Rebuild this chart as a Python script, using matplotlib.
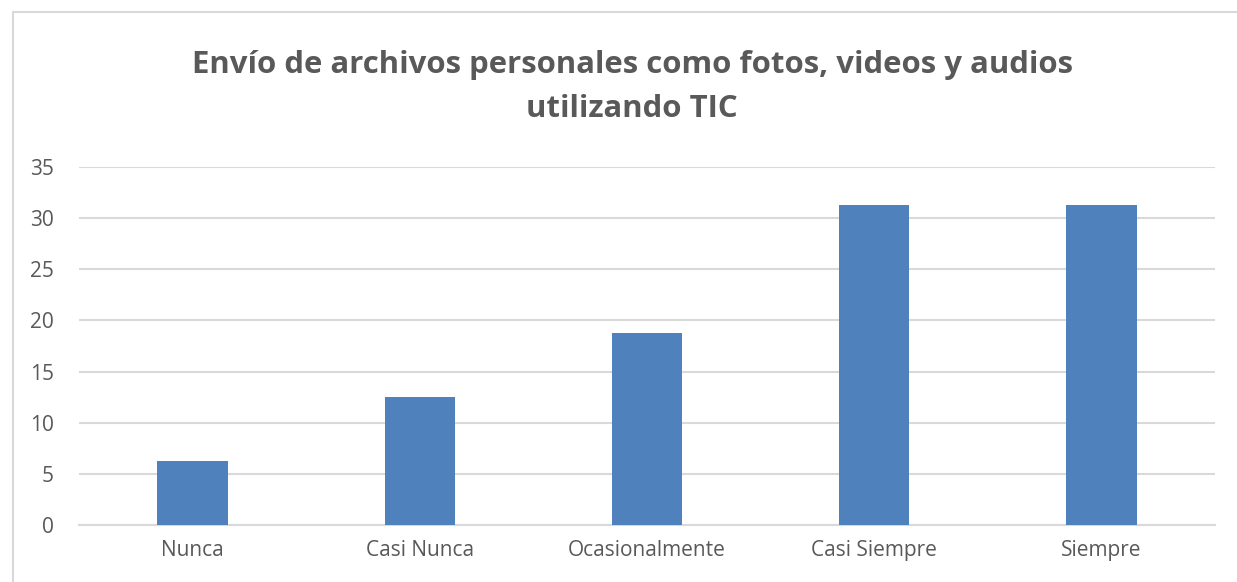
import matplotlib.pyplot as plt
from matplotlib.patches import Rectangle

categorias = ['Nunca', 'Casi Nunca', 'Ocasionalmente', 'Casi Siempre', 'Siempre']
valores = [6.25, 12.5, 18.75, 31.25, 31.25]
yticks = [0, 5, 10, 15, 20, 25, 30, 35]

plt.rcParams['font.family'] = ['Open Sans', 'DejaVu Sans']
gris = '#595959'

fig = plt.figure(figsize=(12.37, 5.82), dpi=100)
ax = fig.add_axes([79 / 1237, 1 - 525 / 582, (1215 - 79) / 1237, (525 - 167) / 582])

# borde del gráfico
fig.patches.append(Rectangle((13 / 1237, -0.05), 1.2, 1 - 12 / 582 + 0.05,
                             transform=fig.transFigure, fill=False,
                             edgecolor='#d9d9d9', linewidth=1.5))

x = range(len(categorias))
ax.bar(x, valores, width=0.31, color='#4f81bd', zorder=3)

ax.set_xlim(-0.5, len(categorias) - 0.5)
ax.set_ylim(0, 35)
ax.set_yticks(yticks)
ax.set_xticks(list(x))
ax.set_xticklabels(categorias)
ax.tick_params(axis='both', length=0, labelsize=15, colors=gris)
ax.tick_params(axis='y', pad=18)
ax.tick_params(axis='x', pad=11)
ax.grid(axis='y', color='#d9d9d9', linewidth=1.5, zorder=0)
for s in ['top', 'right', 'left']:
    ax.spines[s].set_visible(False)
ax.spines['bottom'].set_color('#d9d9d9')
ax.spines['bottom'].set_linewidth(1.5)

fig.text(0.511, 1 - 87 / 582, 'Envío de archivos personales como fotos, videos y audios\nutilizando TIC',
         ha='center', va='center', fontsize=22.4, fontweight='bold', color=gris,
         linespacing=1.6)

fig.savefig('out.png', dpi=100)
